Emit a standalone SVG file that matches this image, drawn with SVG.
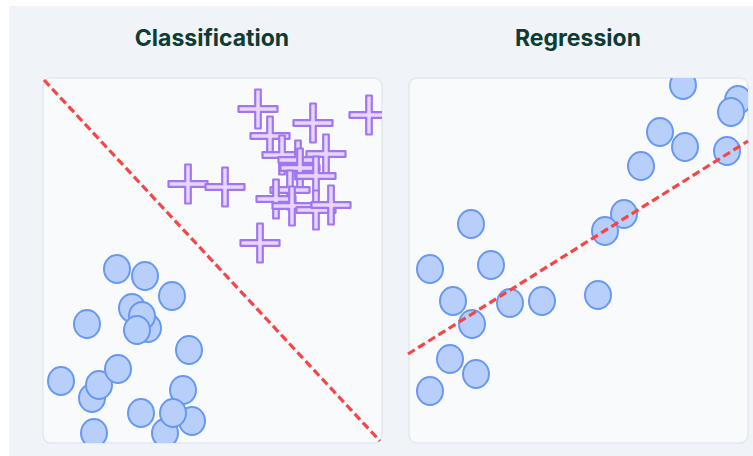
<svg xmlns="http://www.w3.org/2000/svg" xmlns:xlink="http://www.w3.org/1999/xlink" width="753" height="456" viewBox="0 0 753 456">
<style>
.title{font-family:Inter,"Liberation Sans",sans-serif;font-weight:700;font-size:23px;fill:#0e3b33;text-anchor:middle}
.panel{fill:#f8fafc;stroke:#e2e8f0;stroke-width:1.5}
.pt{fill:#b9cffb;stroke:#6798f2;stroke-width:2}
.cr{fill:#e8d6fe;stroke:#a176f2;stroke-width:2.2;stroke-linejoin:round}
.boundary{fill:none;stroke:#f74545;stroke-width:3.2;stroke-dasharray:8 4}
</style>
<defs>
<ellipse id="dot" class="pt" cx="0" cy="0" rx="13" ry="14"/>
<path id="plus" class="cr" d="M-2.8,-19.5 H2.8 V-2.8 H19.5 V2.8 H2.8 V19.5 H-2.8 V2.8 H-19.5 V-2.8 H-2.8 Z"/>
<clipPath id="clipL"><rect x="43" y="78" width="339" height="365" rx="8"/></clipPath>
<clipPath id="clipR"><rect x="409" y="78" width="339" height="365" rx="8"/></clipPath>
</defs>
<rect x="0" y="0" width="753" height="456" fill="#ffffff"/>
<rect x="9" y="6" width="744" height="450" fill="#f0f4f8"/>
<g id="title-classification"><text class="title" x="212" y="46">Classification</text></g>
<g id="title-regression"><text class="title" x="578" y="46">Regression</text></g>
<g id="panel-classification">
<rect class="panel" x="43" y="78" width="339" height="365" rx="8"/>
<g id="class-b" clip-path="url(#clipL)">
<use xlink:href="#dot" x="117" y="269"/>
<use xlink:href="#dot" x="145" y="276"/>
<use xlink:href="#dot" x="172" y="296"/>
<use xlink:href="#dot" x="87" y="324"/>
<use xlink:href="#dot" x="132" y="308"/>
<use xlink:href="#dot" x="148" y="328"/>
<use xlink:href="#dot" x="142" y="316"/>
<use xlink:href="#dot" x="137" y="330"/>
<use xlink:href="#dot" x="189" y="350"/>
<use xlink:href="#dot" x="61" y="381"/>
<use xlink:href="#dot" x="92" y="398"/>
<use xlink:href="#dot" x="99" y="385"/>
<use xlink:href="#dot" x="118" y="369"/>
<use xlink:href="#dot" x="183" y="390"/>
<use xlink:href="#dot" x="141" y="413"/>
<use xlink:href="#dot" x="192" y="421"/>
<use xlink:href="#dot" x="165" y="433"/>
<use xlink:href="#dot" x="173" y="413"/>
<use xlink:href="#dot" x="94" y="433"/>
</g>
<g id="class-a" clip-path="url(#clipL)">
<use xlink:href="#plus" x="258" y="109"/>
<use xlink:href="#plus" x="313" y="123"/>
<use xlink:href="#plus" x="369" y="115"/>
<use xlink:href="#plus" x="270" y="136"/>
<use xlink:href="#plus" x="188" y="184"/>
<use xlink:href="#plus" x="225" y="187"/>
<use xlink:href="#plus" x="282" y="155"/>
<use xlink:href="#plus" x="326" y="154"/>
<use xlink:href="#plus" x="298" y="160"/>
<use xlink:href="#plus" x="300" y="168"/>
<use xlink:href="#plus" x="316" y="176"/>
<use xlink:href="#plus" x="290" y="190"/>
<use xlink:href="#plus" x="276" y="199"/>
<use xlink:href="#plus" x="292" y="206"/>
<use xlink:href="#plus" x="316" y="210"/>
<use xlink:href="#plus" x="331" y="205"/>
<use xlink:href="#plus" x="260" y="243"/>
</g>
</g>
<g id="panel-regression">
<rect class="panel" x="409" y="78" width="339" height="365" rx="8"/>
<g id="reg-points" clip-path="url(#clipR)">
<use xlink:href="#dot" x="683" y="85"/>
<use xlink:href="#dot" x="738" y="100"/>
<use xlink:href="#dot" x="731" y="112"/>
<use xlink:href="#dot" x="660" y="132"/>
<use xlink:href="#dot" x="685" y="147"/>
<use xlink:href="#dot" x="727" y="151"/>
<use xlink:href="#dot" x="641" y="166"/>
<use xlink:href="#dot" x="471" y="224"/>
<use xlink:href="#dot" x="624" y="214"/>
<use xlink:href="#dot" x="605" y="231"/>
<use xlink:href="#dot" x="430" y="269"/>
<use xlink:href="#dot" x="491" y="265"/>
<use xlink:href="#dot" x="453" y="301"/>
<use xlink:href="#dot" x="510" y="303"/>
<use xlink:href="#dot" x="542" y="301"/>
<use xlink:href="#dot" x="598" y="295"/>
<use xlink:href="#dot" x="472" y="324"/>
<use xlink:href="#dot" x="450" y="359"/>
<use xlink:href="#dot" x="476" y="374"/>
<use xlink:href="#dot" x="430" y="391"/>
</g>
</g>
<g id="connectors">
<line class="boundary" x1="44" y1="80" x2="380" y2="441"/>
<line class="boundary" x1="408" y1="354" x2="748" y2="141"/>
</g>
</svg>
